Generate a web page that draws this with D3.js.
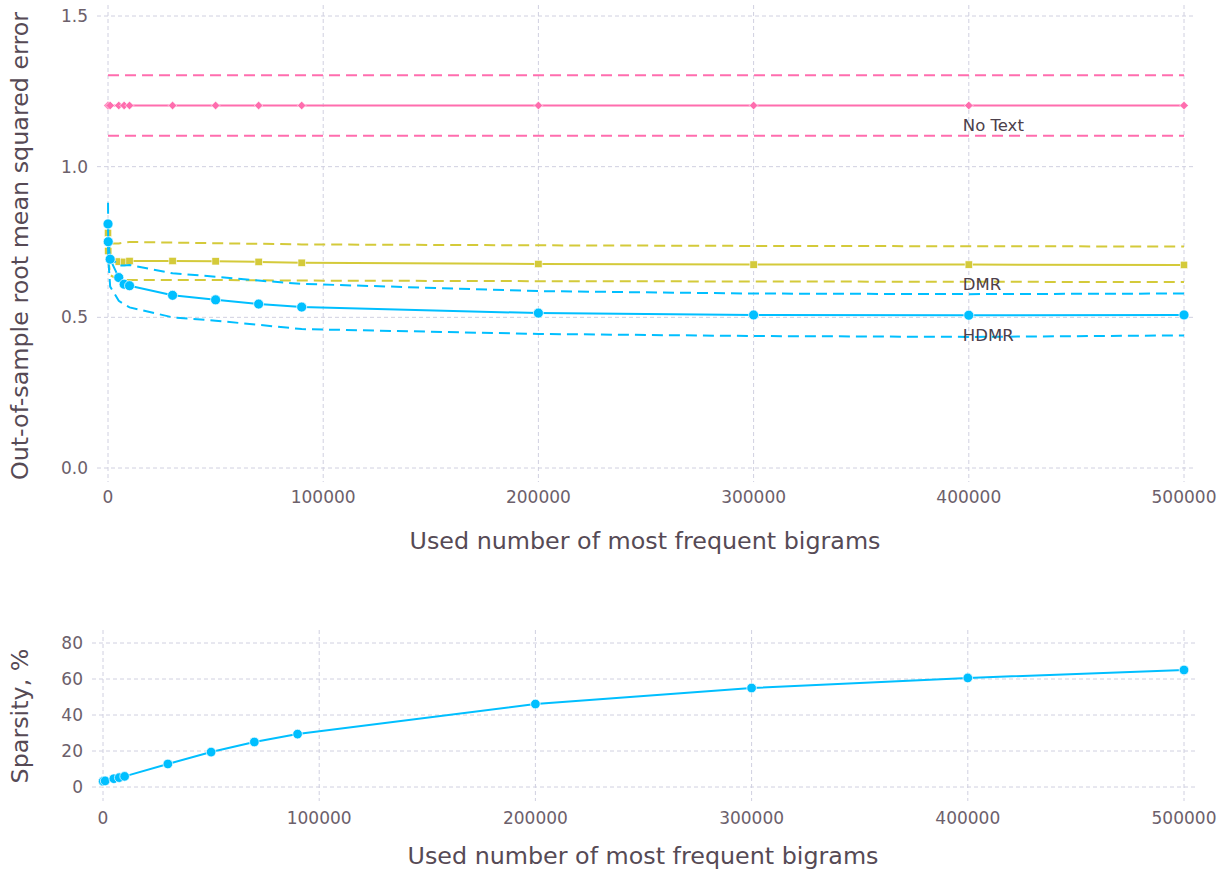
<!DOCTYPE html>
<html>
<head>
<meta charset="utf-8">
<script src="https://cdn.jsdelivr.net/npm/d3@7"></script>
<style>
  html, body { margin: 0; padding: 0; background: #fff; }
  svg { display: block; font-family: "DejaVu Sans", sans-serif; }
</style>
</head>
<body>
<svg id="chart" width="1228" height="871"></svg>
<script>
// Number of most frequent bigrams used as features
const bigrams = [10, 100, 1000, 5000, 7500, 10000, 30000, 50000, 70000, 90000, 200000, 300000, 400000, 500000];

// Out-of-sample RMSE: baseline without text
const noTextMean  = [1.203, 1.203, 1.203, 1.203, 1.203, 1.203, 1.203, 1.203, 1.203, 1.203, 1.203, 1.203, 1.203, 1.203];
const noTextUpper = [1.303, 1.303, 1.303, 1.303, 1.303, 1.303, 1.303, 1.303, 1.303, 1.303, 1.303, 1.303, 1.303, 1.303];
const noTextLower = [1.103, 1.103, 1.103, 1.103, 1.103, 1.103, 1.103, 1.103, 1.103, 1.103, 1.103, 1.103, 1.103, 1.103];

// DMR
const dmrMean  = [0.780, 0.720, 0.690, 0.685, 0.684, 0.687, 0.687, 0.686, 0.684, 0.681, 0.677, 0.675, 0.675, 0.674];
const dmrUpper = [0.800, 0.770, 0.745, 0.745, 0.748, 0.750, 0.748, 0.746, 0.744, 0.742, 0.739, 0.737, 0.736, 0.735];
const dmrLower = [0.750, 0.700, 0.640, 0.625, 0.624, 0.624, 0.624, 0.624, 0.623, 0.622, 0.620, 0.619, 0.618, 0.617];

// HDMR
const hdmrMean  = [0.810, 0.751, 0.693, 0.632, 0.610, 0.605, 0.573, 0.558, 0.544, 0.534, 0.514, 0.508, 0.507, 0.508];
const hdmrUpper = [0.880, 0.790, 0.700, 0.672, 0.672, 0.674, 0.646, 0.635, 0.622, 0.611, 0.587, 0.579, 0.577, 0.579];
const hdmrLower = [0.740, 0.700, 0.602, 0.555, 0.543, 0.533, 0.500, 0.489, 0.475, 0.461, 0.445, 0.438, 0.435, 0.440];

// Share of zero coefficients, %
const sparsity = [3.1, 3.2, 3.4, 4.6, 5.2, 5.9, 12.8, 19.4, 25.0, 29.4, 46.1, 55.0, 60.6, 65.0];

// Axis ticks
const xTicks = [0, 100000, 200000, 300000, 400000, 500000];
const rmseTicks = [0.0, 0.5, 1.0, 1.5];
const sparsityTicks = [0, 20, 40, 60, 80];

// Series labels, placed under the point at x = 400000
const labelNames = ["No Text", "DMR", "HDMR"];
const labelX = [400000, 400000, 400000];
const labelY = [1.203, 0.675, 0.507];

const PINK = "#FF6DAE", YELLOW = "#D4CA3A", BLUE = "#00BFFF";
const GRID = "#D0D0E0", TICK_TXT = "#6C606B", TITLE_TXT = "#564A55", LABEL_TXT = "#4C404B";
const TITLE_SIZE = 23.8, TICK_SIZE = 17, LABEL_SIZE = 16.5;

const svg = d3.select("#chart");

// ---------- Upper panel: RMSE ----------
const upBox = { left: 97, right: 1195, top: 5, bottom: 482 };
const xTop = d3.scaleLinear().domain([0, 500000]).range([108, 1184]);
const yTop = d3.scaleLinear().domain([0, 1.5]).range([468, 16]);

const gTop = svg.append("g");

// grid
gTop.append("g").selectAll("line").data(xTicks).join("line")
  .attr("x1", d => xTop(d)).attr("x2", d => xTop(d))
  .attr("y1", upBox.top).attr("y2", upBox.bottom)
  .attr("stroke", GRID).attr("stroke-width", 1).attr("stroke-dasharray", "4,3");
gTop.append("g").selectAll("line").data(rmseTicks).join("line")
  .attr("x1", upBox.left).attr("x2", upBox.right)
  .attr("y1", d => yTop(d)).attr("y2", d => yTop(d))
  .attr("stroke", GRID).attr("stroke-width", 1).attr("stroke-dasharray", "4,3");

// tick labels
gTop.append("g").selectAll("text").data(rmseTicks).join("text")
  .attr("x", 88).attr("y", d => yTop(d)).attr("text-anchor", "end")
  .attr("dominant-baseline", "central").attr("font-size", TICK_SIZE).attr("fill", TICK_TXT)
  .text(d => d3.format(".1f")(d));
gTop.append("g").selectAll("text").data(xTicks).join("text")
  .attr("x", d => xTop(d)).attr("y", 497).attr("text-anchor", "middle")
  .attr("dominant-baseline", "central").attr("font-size", TICK_SIZE).attr("fill", TICK_TXT)
  .text(d => d);

// axis titles
gTop.append("text").attr("x", 645).attr("y", 541).attr("text-anchor", "middle")
  .attr("dominant-baseline", "central").attr("font-size", TITLE_SIZE).attr("fill", TITLE_TXT)
  .text("Used number of most frequent bigrams");
gTop.append("text").attr("transform", "translate(20,246) rotate(-90)")
  .attr("text-anchor", "middle").attr("dominant-baseline", "central")
  .attr("font-size", TITLE_SIZE).attr("fill", TITLE_TXT)
  .text("Out-of-sample root mean squared error");

const lineTop = d3.line().x(d => xTop(d[0])).y(d => yTop(d[1]));
const pairs = ys => bigrams.map((x, i) => [x, ys[i]]);

function drawBand(g, upper, lower, color) {
  [upper, lower].forEach(ys => {
    g.append("path").attr("d", lineTop(pairs(ys)))
      .attr("fill", "none").attr("stroke", color).attr("stroke-width", 2)
      .attr("stroke-dasharray", "11,6");
  });
}
function drawMean(g, ys, color) {
  g.append("path").attr("d", lineTop(pairs(ys)))
    .attr("fill", "none").attr("stroke", color).attr("stroke-width", 2);
}

// No Text series
const gPink = gTop.append("g");
drawBand(gPink, noTextUpper, noTextLower, PINK);
drawMean(gPink, noTextMean, PINK);
gPink.selectAll("path.pt").data(pairs(noTextMean)).join("path").attr("class", "pt")
  .attr("transform", d => `translate(${xTop(d[0])},${yTop(d[1])})`)
  .attr("d", "M0,-4.3L4.3,0L0,4.3L-4.3,0Z")
  .attr("fill", PINK).attr("stroke", "#fff").attr("stroke-width", 0.6);

// DMR series
const gYel = gTop.append("g");
drawBand(gYel, dmrUpper, dmrLower, YELLOW);
drawMean(gYel, dmrMean, YELLOW);
gYel.selectAll("rect").data(pairs(dmrMean)).join("rect")
  .attr("x", d => xTop(d[0]) - 3.7).attr("y", d => yTop(d[1]) - 3.7)
  .attr("width", 7.4).attr("height", 7.4)
  .attr("fill", YELLOW).attr("stroke", "#fff").attr("stroke-width", 0.6);

// HDMR series
const gBlue = gTop.append("g");
drawBand(gBlue, hdmrUpper, hdmrLower, BLUE);
drawMean(gBlue, hdmrMean, BLUE);
gBlue.selectAll("circle").data(pairs(hdmrMean)).join("circle")
  .attr("cx", d => xTop(d[0])).attr("cy", d => yTop(d[1])).attr("r", 5)
  .attr("fill", BLUE).attr("stroke", "#fff").attr("stroke-width", 0.7);

// series labels
gTop.append("g").selectAll("text").data(labelNames).join("text")
  .attr("x", (d, i) => xTop(labelX[i]) - 6)
  .attr("y", (d, i) => yTop(labelY[i]) + 20)
  .attr("dominant-baseline", "central").attr("font-size", LABEL_SIZE).attr("fill", LABEL_TXT)
  .text(d => d);

// ---------- Lower panel: sparsity ----------
const lowBox = { left: 92, right: 1195, top: 630, bottom: 801 };
const xBot = d3.scaleLinear().domain([0, 500000]).range([103, 1184]);
const yBot = d3.scaleLinear().domain([0, 80]).range([787, 643]);

const gBot = svg.append("g");
gBot.append("g").selectAll("line").data(xTicks).join("line")
  .attr("x1", d => xBot(d)).attr("x2", d => xBot(d))
  .attr("y1", lowBox.top).attr("y2", lowBox.bottom)
  .attr("stroke", GRID).attr("stroke-width", 1).attr("stroke-dasharray", "4,3");
gBot.append("g").selectAll("line").data(sparsityTicks).join("line")
  .attr("x1", lowBox.left).attr("x2", lowBox.right)
  .attr("y1", d => yBot(d)).attr("y2", d => yBot(d))
  .attr("stroke", GRID).attr("stroke-width", 1).attr("stroke-dasharray", "4,3");

gBot.append("g").selectAll("text").data(sparsityTicks).join("text")
  .attr("x", 83).attr("y", d => yBot(d)).attr("text-anchor", "end")
  .attr("dominant-baseline", "central").attr("font-size", TICK_SIZE).attr("fill", TICK_TXT)
  .text(d => d);
gBot.append("g").selectAll("text").data(xTicks).join("text")
  .attr("x", d => xBot(d)).attr("y", 818).attr("text-anchor", "middle")
  .attr("dominant-baseline", "central").attr("font-size", TICK_SIZE).attr("fill", TICK_TXT)
  .text(d => d);

gBot.append("text").attr("x", 643).attr("y", 856).attr("text-anchor", "middle")
  .attr("dominant-baseline", "central").attr("font-size", TITLE_SIZE).attr("fill", TITLE_TXT)
  .text("Used number of most frequent bigrams");
gBot.append("text").attr("transform", "translate(20,716) rotate(-90)")
  .attr("text-anchor", "middle").attr("dominant-baseline", "central")
  .attr("font-size", TITLE_SIZE).attr("fill", TITLE_TXT)
  .text("Sparsity, %");

const lineBot = d3.line().x(d => xBot(d[0])).y(d => yBot(d[1]));
gBot.append("path").attr("d", lineBot(pairs(sparsity)))
  .attr("fill", "none").attr("stroke", BLUE).attr("stroke-width", 2);
gBot.selectAll("circle").data(pairs(sparsity)).join("circle")
  .attr("cx", d => xBot(d[0])).attr("cy", d => yBot(d[1])).attr("r", 4.8)
  .attr("fill", BLUE).attr("stroke", "#fff").attr("stroke-width", 0.7);
</script>
</body>
</html>
